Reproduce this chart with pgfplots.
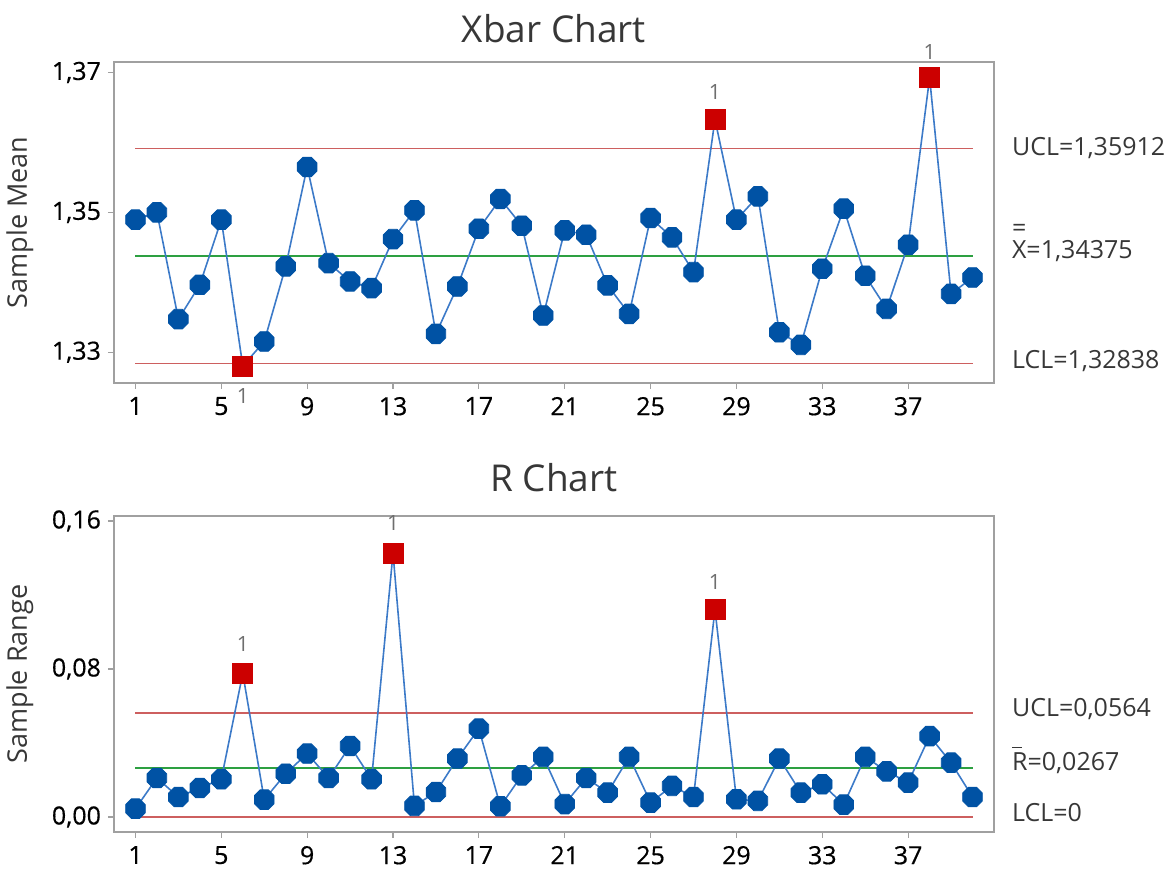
\documentclass[border=0pt]{standalone}
\usepackage{fontspec}
\setmainfont{Open Sans}
\newfontfamily\tickfont[FakeBold=0.5]{Open Sans}
\usepackage{pgfplots}
\usepackage{pgfplotstable}
\pgfplotsset{compat=1.18}

\definecolor{ptblue}{RGB}{0,82,164}
\definecolor{lnblue}{RGB}{60,122,200}
\definecolor{ptred}{RGB}{204,0,0}
\definecolor{clred}{RGB}{205,95,95}
\definecolor{clgreen}{RGB}{45,160,65}
\definecolor{framegray}{RGB}{160,160,160}
\definecolor{txt}{RGB}{55,55,55}
\definecolor{onegray}{RGB}{110,110,110}

% octagon marker like the Minitab dots
\pgfdeclareplotmark{octagon}{%
  \pgfpathmoveto{\pgfpointpolar{22.5}{\pgfplotmarksize}}%
  \pgfpathlineto{\pgfpointpolar{67.5}{\pgfplotmarksize}}%
  \pgfpathlineto{\pgfpointpolar{112.5}{\pgfplotmarksize}}%
  \pgfpathlineto{\pgfpointpolar{157.5}{\pgfplotmarksize}}%
  \pgfpathlineto{\pgfpointpolar{202.5}{\pgfplotmarksize}}%
  \pgfpathlineto{\pgfpointpolar{247.5}{\pgfplotmarksize}}%
  \pgfpathlineto{\pgfpointpolar{292.5}{\pgfplotmarksize}}%
  \pgfpathlineto{\pgfpointpolar{337.5}{\pgfplotmarksize}}%
  \pgfpathclose
  \pgfusepathqfillstroke}

\pgfplotstableread{
n  v       c
1  1.34895 a
2  1.35000 a
3  1.33473 a
4  1.33964 a
5  1.34895 a
6  1.32804 b
7  1.33153 a
8  1.34227 a
9  1.35649 a
10 1.34274 a
11 1.34012 a
12 1.33916 a
13 1.34618 a
14 1.35029 a
15 1.33263 a
16 1.33940 a
17 1.34766 a
18 1.35191 a
19 1.34809 a
20 1.33525 a
21 1.34742 a
22 1.34680 a
23 1.33955 a
24 1.33549 a
25 1.34919 a
26 1.34642 a
27 1.34146 a
28 1.36327 b
29 1.34895 a
30 1.35229 a
31 1.33286 a
32 1.33105 a
33 1.34193 a
34 1.35053 a
35 1.34093 a
36 1.33620 a
37 1.34537 a
38 1.36924 b
39 1.33835 a
40 1.34069 a
}\xbardata

\pgfplotstableread{
n  v      c
1  0.0045 a
2  0.0211 a
3  0.0108 a
4  0.0157 a
5  0.0204 a
6  0.0776 b
7  0.0094 a
8  0.0234 a
9  0.0343 a
10 0.0211 a
11 0.0384 a
12 0.0204 a
13 0.1425 b
14 0.0060 a
15 0.0135 a
16 0.0316 a
17 0.0478 a
18 0.0058 a
19 0.0225 a
20 0.0325 a
21 0.0070 a
22 0.0211 a
23 0.0132 a
24 0.0325 a
25 0.0078 a
26 0.0168 a
27 0.0108 a
28 0.1122 b
29 0.0096 a
30 0.0087 a
31 0.0316 a
32 0.0132 a
33 0.0177 a
34 0.0067 a
35 0.0325 a
36 0.0247 a
37 0.0186 a
38 0.0437 a
39 0.0294 a
40 0.0108 a
}\rdata

\pgfplotsset{
  spc/.style={
    scale only axis, width=440pt,
    xmin=0, xmax=41,
    axis line style={framegray, line width=0.9pt},
    xtick={1,5,...,37},
    tick align=outside, xtick pos=left, ytick pos=left,
    major tick length=3pt,
    tick style={framegray, line width=0.6pt},
    ticklabel style={font=\tickfont\fontsize{12.5}{14}\selectfont, black},
    xticklabel style={yshift=-0.5pt},
    /pgf/number format/assume math mode=true,
    yticklabel style={/pgf/number format/.cd, fixed, fixed zerofill, precision=2, use comma},
    ylabel style={font=\fontsize{13.5}{16}\selectfont, txt,
      at={(axis description cs:-0.107,0.5)}, anchor=center},
    clip=false,
  },
  lin/.style={lnblue, line width=0.8pt, mark=none},
  pts/.style={only marks, scatter, point meta=explicit symbolic,
    scatter/classes={
      a={mark=octagon, mark size=5.3pt, draw=ptblue, fill=ptblue},
      b={mark=square*, mark size=5pt, draw=ptred, fill=ptred}}},
}
\tikzset{
  one/.style={font=\fontsize{10.5}{12}\selectfont, onegray, anchor=center},
  cl/.style={font=\fontsize{12.5}{14}\selectfont, txt, anchor=base west, xshift=5.5pt},
}

\begin{document}
\begin{tikzpicture}
\useasboundingbox (-57pt,-243.5pt) rectangle (529.5pt,191.5pt);

% Xbar chart
\begin{axis}[spc, at={(0,0)}, anchor=south west, height=160.5pt,
  ymin=1.3256, ymax=1.3715, ytick={1.33,1.35,1.37},
  ylabel={Sample Mean}]
\addplot[clred, line width=0.85pt] coordinates {(1,1.35912) (40,1.35912)};
\addplot[clred, line width=0.85pt] coordinates {(1,1.32838) (40,1.32838)};
\addplot[clgreen, line width=1pt] coordinates {(1,1.34375) (40,1.34375)};
\addplot[lin] table[x=n, y=v] {\xbardata};
\addplot[pts] table[x=n, y=v, meta=c] {\xbardata};
\node[one, yshift=-15pt] at (axis cs:6,1.32804) {1};
\node[one, yshift=14pt] at (axis cs:28,1.36327) {1};
\node[one, yshift=13pt] at (axis cs:38,1.36924) {1};
\node[cl, yshift=-3.6pt] at (axis cs:41,1.35912) {UCL=1,35912};
\node[cl, yshift=-1.2pt] at (axis cs:41,1.34375) {\rlap{\raisebox{0.86em}{=}}X=1,34375};
\node[cl, yshift=-2.6pt] at (axis cs:41,1.32838) {LCL=1,32838};
\node[font=\fontsize{18.5}{22}\selectfont, txt, anchor=base, yshift=9.5pt] at (rel axis cs:0.5,1) {Xbar Chart};
\end{axis}

% R chart
\begin{axis}[spc, at={(0,-224.5pt)}, anchor=south west, height=158pt,
  ymin=-0.0081, ymax=0.1627, ytick={0,0.08,0.16},
  ylabel={Sample Range}]
\addplot[clred, line width=0.85pt] coordinates {(1,0.0564) (40,0.0564)};
\addplot[clred, line width=0.85pt] coordinates {(1,0) (40,0)};
\addplot[clgreen, line width=1pt] coordinates {(1,0.0267) (40,0.0267)};
\addplot[lin] table[x=n, y=v] {\rdata};
\addplot[pts] table[x=n, y=v, meta=c] {\rdata};
\node[one, yshift=14.5pt] at (axis cs:6,0.0776) {1};
\node[one, yshift=15pt] at (axis cs:13,0.1425) {1};
\node[one, yshift=13.8pt] at (axis cs:28,0.1122) {1};
\node[cl, yshift=-1.8pt] at (axis cs:41,0.0564) {UCL=0,0564};
\node[cl, yshift=-1.6pt] at (axis cs:41,0.0267) {\rlap{\rule[0.9em]{0.38em}{0.7pt}}R=0,0267};
\node[cl, yshift=-2pt] at (axis cs:41,0) {LCL=0};
\node[font=\fontsize{18.5}{22}\selectfont, txt, anchor=base, yshift=12pt] at (rel axis cs:0.5,1) {R Chart};
\end{axis}
\end{tikzpicture}
\end{document}
